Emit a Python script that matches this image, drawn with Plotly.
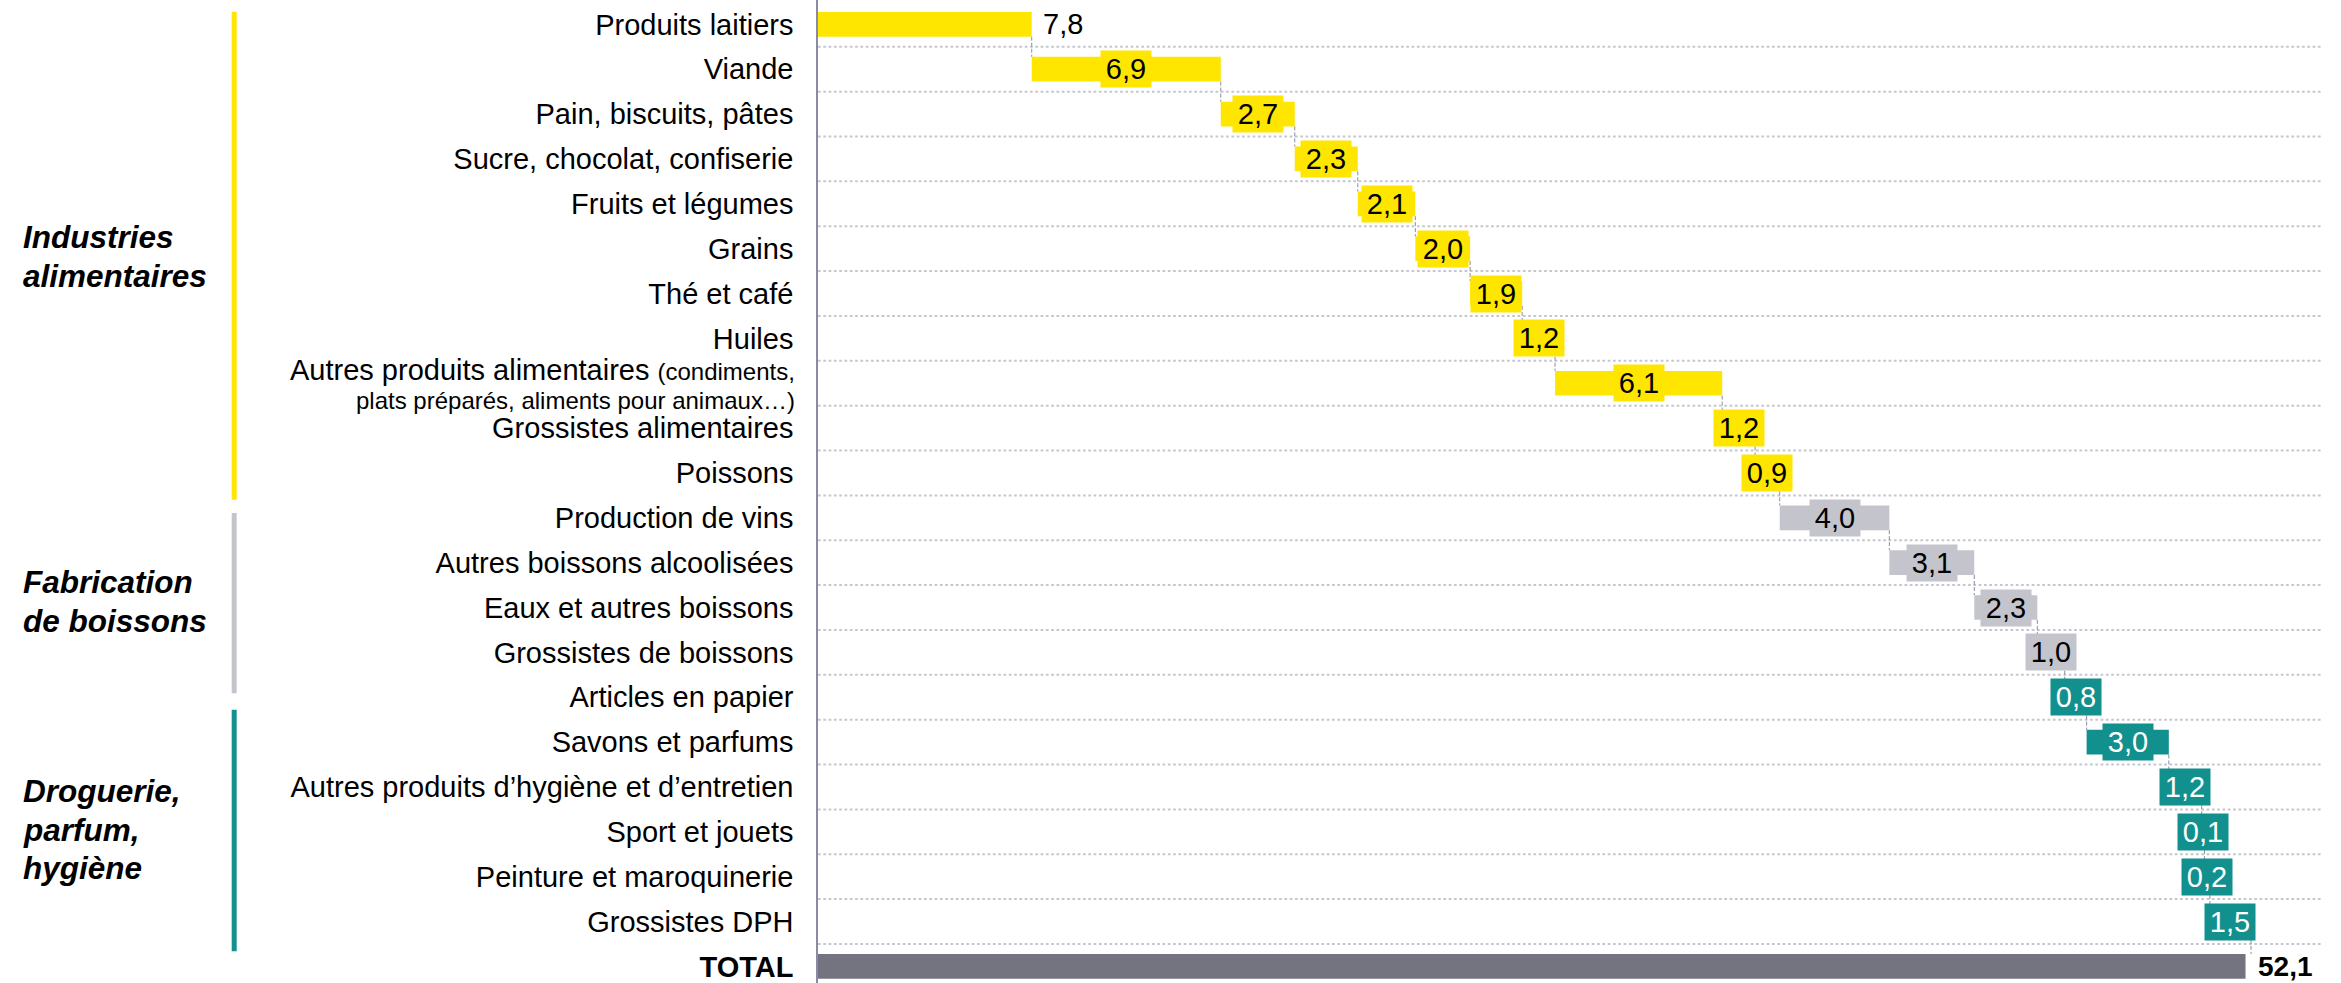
import plotly.graph_objects as go

# ---- data -------------------------------------------------------------
categories = [
    "Produits laitiers",
    "Viande",
    "Pain, biscuits, pâtes",
    "Sucre, chocolat, confiserie",
    "Fruits et légumes",
    "Grains",
    "Thé et café",
    "Huiles",
    "Autres produits alimentaires",
    "Grossistes alimentaires",
    "Poissons",
    "Production de vins",
    "Autres boissons alcoolisées",
    "Eaux et autres boissons",
    "Grossistes de boissons",
    "Articles en papier",
    "Savons et parfums",
    "Autres produits d’hygiène et d’entretien",
    "Sport et jouets",
    "Peinture et maroquinerie",
    "Grossistes DPH",
]
# small-print detail following some category names, split over two lines
category_notes = [None] * 8 + [("(condiments,", "plats préparés, aliments pour animaux…)")] + [None] * 12
values = [7.8, 6.9, 2.7, 2.3, 2.1, 2.0, 1.9, 1.2, 6.1, 1.2, 0.9,
          4.0, 3.1, 2.3, 1.0,
          0.8, 3.0, 1.2, 0.1, 0.2, 1.5]
segments = ["food"] * 11 + ["drinks"] * 4 + ["dph"] * 6
total_label = "TOTAL"
total_value = 52.1

group_keys = ["food", "drinks", "dph"]
group_titles = [
    ["Industries", "alimentaires"],
    ["Fabrication", "de boissons"],
    ["Droguerie,", "parfum,", "hygiène"],
]

# ---- styling ----------------------------------------------------------
W, H = 2341, 983
PLOT_LEFT, PLOT_RIGHT = 818, 2325
LABEL_RIGHT = 797
PX_PER_UNIT = 27.4
ROW_PX = 44.86
FIRST_ROW_PX = 24.35
BAR_W = 0.55

FONT = "Liberation Sans, Arial, sans-serif"
LABEL_SIZE = 29
NOTE_SIZE = 24
seg_color = {"food": "#FFE600", "drinks": "#C4C4CD", "dph": "#12908E"}
seg_text = {"food": "#000000", "drinks": "#000000", "dph": "#FFFFFF"}
TOTAL_COLOR = "#747480"
GRID_COLOR = "#C6C6D0"
CONNECTOR_COLOR = "#8C8CA0"

# bracket extents (row units) and title centres (row units) for the groups
bracket_span = {"food": (-0.28, 10.60), "drinks": (10.89, 14.91), "dph": (15.28, 20.66)}
title_center = {"food": 5.18, "drinks": 12.87, "dph": 17.95}
TITLE_LINE_PX = 38.5
NOTE_LINE_SHIFT = (13.5, -17.0)


def paper_x(px):
    return (px - PLOT_LEFT) / (PLOT_RIGHT - PLOT_LEFT)


n = len(values)
starts = []
run = 0.0
for v in values:
    starts.append(run)
    run += v
ends = [s + v for s, v in zip(starts, values)]

# two-line names are written as annotations; the axis carries the others
tick_text = [("" if note else name) for name, note in zip(categories, category_notes)]
tick_text.append(f"<b>{total_label}</b>")

fig = go.Figure()

fig.add_trace(go.Bar(
    orientation="h",
    y=list(range(n)),
    x=values,
    base=starts,
    width=BAR_W,
    marker=dict(color=[seg_color[s] for s in segments], line=dict(width=0)),
    hoverinfo="skip",
    showlegend=False,
))
fig.add_trace(go.Bar(
    orientation="h",
    y=[n],
    x=[total_value],
    base=[0],
    width=BAR_W,
    marker=dict(color=TOTAL_COLOR, line=dict(width=0)),
    hoverinfo="skip",
    showlegend=False,
))

shapes = []
# dotted separators between rows
for k in range(n):
    shapes.append(dict(
        type="line", xref="paper", yref="y", x0=0, x1=0.9985, y0=k + 0.5, y1=k + 0.5,
        line=dict(color=GRID_COLOR, width=2, dash="2.7px,2.6px"), layer="below",
    ))
# connectors from each bar end to the next bar
for i in range(n):
    shapes.append(dict(
        type="line", xref="x", yref="y", x0=ends[i], x1=ends[i],
        y0=i + BAR_W / 2, y1=i + 1 - BAR_W / 2,
        line=dict(color=CONNECTOR_COLOR, width=1, dash="4px,2px"), layer="below",
    ))
# coloured group brackets
for g in group_keys:
    y0, y1 = bracket_span[g]
    shapes.append(dict(
        type="rect", xref="paper", yref="y", x0=paper_x(231.7), x1=paper_x(236.7),
        y0=y0, y1=y1, fillcolor=seg_color[g], line=dict(width=0), layer="above",
    ))

annotations = []
# category names with a small-print detail
for i, (name, note) in enumerate(zip(categories, category_notes)):
    if not note:
        continue
    first = f"{name} <span style='font-size:{NOTE_SIZE}px'>{note[0]}</span>"
    for text, size, shift in ((first, LABEL_SIZE, NOTE_LINE_SHIFT[0]),
                              (note[1], NOTE_SIZE, NOTE_LINE_SHIFT[1])):
        annotations.append(dict(
            x=paper_x(LABEL_RIGHT), y=i, xref="paper", yref="y", text=text,
            showarrow=False, xanchor="right", yanchor="middle", yshift=shift,
            font=dict(family=FONT, size=size, color="#000000"),
        ))

# value labels
for i, (v, s, e, seg) in enumerate(zip(values, starts, ends, segments)):
    label = f"{v:.1f}".replace(".", ",")
    if i == 0:
        annotations.append(dict(
            x=e, y=i, xref="x", yref="y", text=label, showarrow=False,
            xanchor="left", yanchor="middle", xshift=9,
            font=dict(family=FONT, size=LABEL_SIZE, color="#000000"),
        ))
    else:
        annotations.append(dict(
            x=(s + e) / 2, y=i, xref="x", yref="y", text=label, showarrow=False,
            xanchor="center", yanchor="middle", width=50, height=36, borderpad=0,
            bgcolor=seg_color[seg],
            font=dict(family=FONT, size=LABEL_SIZE, color=seg_text[seg]),
        ))
annotations.append(dict(
    x=total_value, y=n, xref="x", yref="y",
    text="<b>" + f"{total_value:.1f}".replace(".", ",") + "</b>",
    showarrow=False, xanchor="left", yanchor="middle", xshift=10,
    font=dict(family=FONT, size=28, color="#000000"),
))

# group titles
for g, lines in zip(group_keys, group_titles):
    m = len(lines)
    for k, line in enumerate(lines):
        annotations.append(dict(
            x=paper_x(20.7), y=title_center[g], xref="paper", yref="y",
            text=f"<b><i>{line}</i></b>", showarrow=False,
            xanchor="left", yanchor="middle",
            yshift=-(k - (m - 1) / 2) * TITLE_LINE_PX,
            font=dict(family=FONT, size=31.5, color="#000000"),
        ))

y_top = -FIRST_ROW_PX / ROW_PX
y_bottom = (H - FIRST_ROW_PX) / ROW_PX

fig.update_layout(
    width=W, height=H,
    margin=dict(l=PLOT_LEFT, r=W - PLOT_RIGHT, t=0, b=0, pad=0),
    paper_bgcolor="white", plot_bgcolor="white",
    barmode="overlay",
    shapes=shapes,
    annotations=annotations,
    font=dict(family=FONT, color="#000000"),
    xaxis=dict(range=[0, (PLOT_RIGHT - PLOT_LEFT) / PX_PER_UNIT], visible=False,
               showgrid=False, zeroline=False),
    yaxis=dict(
        range=[y_bottom, y_top],
        tickmode="array", tickvals=list(range(n + 1)), ticktext=tick_text,
        tickfont=dict(family=FONT, size=LABEL_SIZE, color="#000000"),
        showgrid=False, zeroline=False, ticks="",
        showline=True, linecolor="#8A8AA2", linewidth=1.5,
        ticklabelstandoff=17,
    ),
)

fig.write_html("out.html")
